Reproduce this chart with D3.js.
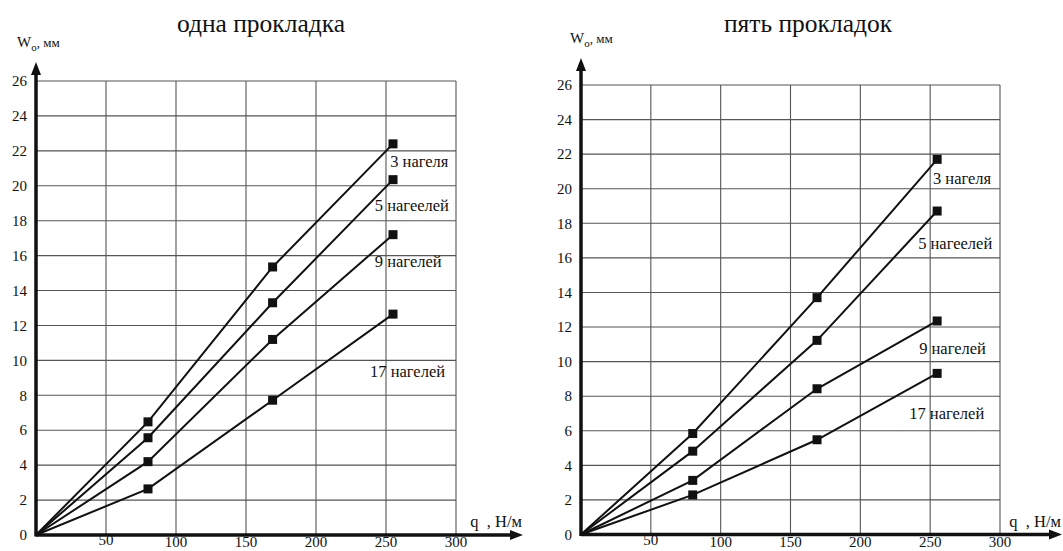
<!DOCTYPE html>
<html><head><meta charset="utf-8">
<script src="https://cdn.jsdelivr.net/npm/d3@7"></script>
<style>body{margin:0;background:#fff}svg{display:block}</style>
</head><body>
<svg id="c" width="1063" height="551" font-family="'Liberation Serif', 'Times New Roman', 'DejaVu Serif', serif"></svg>
<script>
// ---- data ----
const qValues = [0, 80, 169, 255];
const seriesNames = ["3 нагеля", "5 нагеелей", "9 нагелей", "17 нагелей"];
// одна прокладка
const oneW3  = [0, 6.48, 15.35, 22.4];
const oneW5  = [0, 5.57, 13.3, 20.35];
const oneW9  = [0, 4.2, 11.2, 17.2];
const oneW17 = [0, 2.64, 7.72, 12.65];
// пять прокладок
const fiveW3  = [0, 5.84, 13.7, 21.7];
const fiveW5  = [0, 4.82, 11.23, 18.71];
const fiveW9  = [0, 3.13, 8.43, 12.35];
const fiveW17 = [0, 2.29, 5.48, 9.32];
// label anchors in data units (q, W)
const oneLabelQ = [253, 242, 242, 238.6];
const oneLabelW = [21.1, 18.55, 15.33, 9.07];
const fiveLabelQ = [252, 241.4, 242.1, 235];
const fiveLabelW = [20.27, 16.5, 10.44, 6.66];
const xTicks = [50, 100, 150, 200, 250, 300];
const yTicks = [0, 2, 4, 6, 8, 10, 12, 14, 16, 18, 20, 22, 24, 26];
const titles = ["одна прокладка", "пять прокладок"];

const svg = d3.select("#c");

function panel(cfg) {
  const g = svg.append("g");
  const x = d3.scaleLinear().domain([0, 300]).range([cfg.x0, cfg.x1]);
  const y = d3.scaleLinear().domain([0, 26]).range([cfg.y0, cfg.y1]);

  // grid
  g.append("g").selectAll("line").data(yTicks.filter(d => d > 0)).join("line")
    .attr("x1", x(0)).attr("x2", x(300)).attr("y1", d => y(d)).attr("y2", d => y(d))
    .attr("stroke", "#555").attr("stroke-width", 1.1);
  g.append("g").selectAll("line").data(xTicks).join("line")
    .attr("x1", d => x(d)).attr("x2", d => x(d)).attr("y1", y(0)).attr("y2", y(26))
    .attr("stroke", "#555").attr("stroke-width", 1.1);

  // axes
  g.append("line").attr("x1", x(0)).attr("x2", cfg.xTip - 8).attr("y1", y(0)).attr("y2", y(0))
    .attr("stroke", "#111").attr("stroke-width", 3.5);
  g.append("path").attr("d", `M${cfg.xTip},${y(0)} L${cfg.xTip - 13},${y(0) - 5} L${cfg.xTip - 13},${y(0) + 5} Z`).attr("fill", "#111");
  g.append("line").attr("x1", x(0)).attr("x2", x(0)).attr("y1", y(0) + 1.5).attr("y2", cfg.yTip + 8)
    .attr("stroke", "#111").attr("stroke-width", 3.5);
  g.append("path").attr("d", `M${x(0)},${cfg.yTip} L${x(0) - 5},${cfg.yTip + 13} L${x(0) + 5},${cfg.yTip + 13} Z`).attr("fill", "#111");

  // tick labels
  g.append("g").selectAll("text").data(yTicks).join("text")
    .attr("x", x(0) - 9).attr("y", d => y(d)).attr("dy", "0.35em")
    .attr("text-anchor", "end").attr("font-size", 15).attr("fill", "#111").text(d => d);
  g.append("g").selectAll("text").data(xTicks).join("text")
    .attr("x", d => x(d)).attr("y", d => d === 50 ? 545 : 547)
    .attr("text-anchor", "middle").attr("font-size", 15).attr("fill", "#111").text(d => d);

  // axis titles
  const yl = g.append("text").attr("x", x(0) - cfg.yLabelOff).attr("y", cfg.yTip - 15).attr("font-size", 15).attr("fill", "#111");
  yl.append("tspan").text("W");
  yl.append("tspan").attr("font-size", 11).attr("dy", 4).text("о");
  yl.append("tspan").attr("font-size", 13).attr("dy", -4).text(", мм");
  g.append("text").attr("x", cfg.xTip - 1).attr("y", y(0) - 8).attr("text-anchor", "end")
    .attr("font-size", 16.5).attr("fill", "#111").attr("xml:space", "preserve").text("q  , Н/м");

  // title
  g.append("text").attr("x", cfg.titleX).attr("y", 32).attr("text-anchor", "middle")
    .attr("font-size", 25.5).attr("fill", "#111").text(cfg.title);

  // series
  const line = d3.line().x(d => x(d[0])).y(d => y(d[1]));
  cfg.series.forEach((vals, i) => {
    const pts = qValues.map((q, j) => [q, vals[j]]);
    g.append("path").attr("d", line(pts)).attr("fill", "none")
      .attr("stroke", "#111").attr("stroke-width", 2);
    g.append("g").selectAll("rect").data(pts.slice(1)).join("rect")
      .attr("x", d => x(d[0]) - 4.5).attr("y", d => y(d[1]) - 4.5)
      .attr("width", 9).attr("height", 9).attr("fill", "#111");
    g.append("text").attr("x", x(cfg.labelQ[i])).attr("y", y(cfg.labelW[i]))
      .attr("font-size", 16.5).attr("fill", "#111").text(seriesNames[i]);
  });
}

panel({x0: 36, x1: 456, y0: 535, y1: 81, xTip: 523, yTip: 62, titleX: 261, yLabelOff: 19, title: titles[0],
  series: [oneW3, oneW5, oneW9, oneW17], labelQ: oneLabelQ, labelW: oneLabelW});
panel({x0: 581, x1: 1000, y0: 534.5, y1: 85, xTip: 1062, yTip: 58, titleX: 808, yLabelOff: 11, title: titles[1],
  series: [fiveW3, fiveW5, fiveW9, fiveW17], labelQ: fiveLabelQ, labelW: fiveLabelW});
</script>
</body></html>
